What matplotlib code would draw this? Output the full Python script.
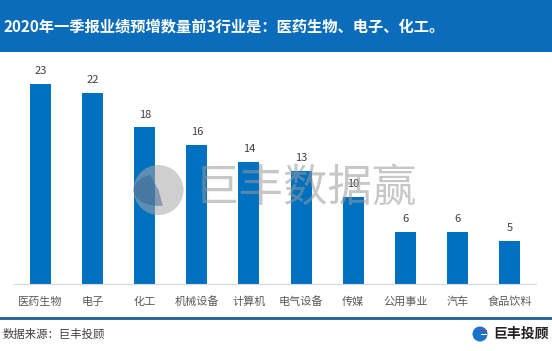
import numpy as np
import matplotlib.pyplot as plt
from matplotlib.patches import Rectangle, Ellipse, Wedge

plt.rcParams['font.family'] = ['Noto Sans CJK SC', 'DejaVu Sans']

categories = ['医药生物', '电子', '化工', '机械设备', '计算机', '电气设备', '传媒', '公用事业', '汽车', '食品饮料']
counts = [23, 22, 18, 16, 14, 13, 10, 6, 6, 5]

title = '2020年一季报业绩预增数量前3行业是：医药生物、电子、化工。'
source = '数据来源：巨丰投顾'

W, H = 552, 351
BAR_BLUE = '#0070C0'
BAND_BLUE = '#0B6CBB'


def fx(px):
    return px / W


def fy(py):
    return 1 - py / H


fig = plt.figure(figsize=(W / 100, H / 100), dpi=100)

# title band
fig.patches.append(Rectangle((0, fy(52)), 1, 52 / H, transform=fig.transFigure,
                             facecolor=BAND_BLUE, edgecolor='none', zorder=0))
fig.text(fx(4), fy(27), title, color='white', fontsize=11, fontweight='bold',
         va='center', ha='left')

# bars
ax = fig.add_axes([fx(14.5), fy(284), fx(521), (284 - 60) / H])
x = np.arange(len(categories))
ax.bar(x, counts, width=21 / 52, color=BAR_BLUE, zorder=2)
for xi, v in zip(x, counts):
    ax.text(xi, v + 0.9, str(v), ha='center', va='bottom', fontsize=8, color='#404040')
ax.set_xlim(-0.5, len(categories) - 0.5)
ax.set_ylim(0, (284 - 60) / 8.7)
ax.set_xticks(x)
ax.set_xticklabels(categories, fontsize=8, color='#595959')
ax.tick_params(axis='x', length=0, pad=9)
ax.set_yticks([])
for s in ['top', 'right', 'left']:
    ax.spines[s].set_visible(False)
ax.spines['bottom'].set_color('#D9D9D9')
ax.spines['bottom'].set_linewidth(0.8)
ax.set_facecolor('none')

# watermark
fig.text(fx(306), fy(188), '巨丰数据赢', fontsize=32, color='#9A9A9A', alpha=0.55,
         ha='center', va='center', zorder=10)
fig.patches.append(Ellipse((fx(158.5), fy(190)), 50 / W, 50 / H, transform=fig.transFigure,
                           facecolor='#A8A8A8', alpha=0.55, edgecolor='none', zorder=10))
fig.patches.append(Wedge((fx(0.5 * W * 0 + 158.5), fy(190)), 25 / W, 110, 280,
                         transform=fig.transFigure, facecolor='#2E5C92', alpha=0.45,
                         edgecolor='none', zorder=10))

# footer separator
fig.add_artist(plt.Line2D([0, 1], [fy(318), fy(318)], color='#1F5E94', linewidth=2))
fig.text(fx(3), fy(334), source, fontsize=8.2, color='#404040', va='center', ha='left')

# footer logo
fig.patches.append(Ellipse((fx(480), fy(334)), 15 / W, 15 / H, transform=fig.transFigure,
                           facecolor='#1A73C9', edgecolor='none'))
fig.patches.append(Rectangle((fx(481), fy(331)), 6 / W, 1.5 / H, transform=fig.transFigure,
                             facecolor='#D9262E', edgecolor='none'))
fig.patches.append(Rectangle((fx(481), fy(335)), 6 / W, 1.5 / H, transform=fig.transFigure,
                             facecolor='white', edgecolor='none'))
fig.text(fx(493), fy(334), '巨丰投顾', fontsize=10, color='#222222', fontweight='bold',
         va='center', ha='left')

fig.savefig('out.png', dpi=100)
